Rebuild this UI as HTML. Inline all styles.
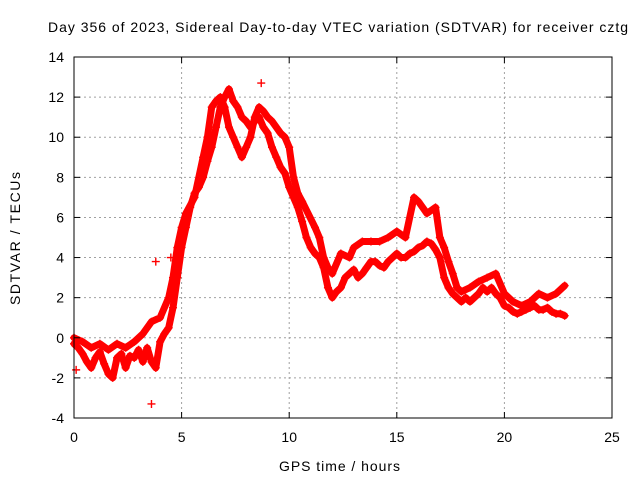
<!DOCTYPE html>
<html><head><meta charset="utf-8"><style>
body{margin:0;background:#fff}
svg{display:block;font-family:"Liberation Sans",sans-serif}
</style></head><body>
<svg id="chart" width="640" height="480" viewBox="0 0 640 480">
<text x="48" y="32" font-size="14" textLength="580" lengthAdjust="spacing" fill="#000">Day 356 of 2023, Sidereal Day-to-day VTEC variation (SDTVAR) for receiver cztg</text>
<g id="grid"></g><g id="series"></g><g id="axes"></g>
<text x="279" y="471" font-size="14" textLength="121" lengthAdjust="spacing">GPS time / hours</text>
<text x="0" y="0" font-size="14" textLength="133" lengthAdjust="spacing" transform="translate(20,305) rotate(-90)">SDTVAR / TECUs</text>
</svg>
<script>
const xTicks=[0,5,10,15,20,25];
const yTicks=[-4,-2,0,2,4,6,8,10,12,14];
const trackATimes=[0,0.2,0.4,0.6,0.8,1.0,1.2,1.4,1.6,1.8,2.0,2.2,2.4,2.6,2.8,3.0,3.2,3.4,3.6,3.8,4.0,4.2,4.4,4.6,4.8,5.0,5.2,5.4,5.6,5.8,6.0,6.2,6.4,6.6,6.8,7.0,7.2,7.4,7.6,7.8,8.0,8.2,8.4,8.6,8.8,9.0,9.2,9.4,9.6,9.8,10.0,10.2,10.4,10.6,10.8,11.0,11.2,11.4,11.6,11.8,12.0,12.2,12.4,12.6,12.8,13.0,13.2,13.4,13.6,13.8,14.0,14.2,14.4,14.6,14.8,15.0,15.2,15.4,15.6,15.8,16.0,16.2,16.4,16.6,16.8,17.0,17.2,17.4,17.6,17.8,18.0,18.2,18.4,18.6,18.8,19.0,19.2,19.4,19.6,19.8,20.0,20.2,20.4,20.6,20.8,21.0,21.2,21.4,21.6,21.8,22.0,22.2,22.4,22.6,22.8];
const trackAValues=[-0.3,-0.5,-0.8,-1.2,-1.5,-1.0,-0.7,-1.3,-1.8,-2.0,-1.0,-0.8,-1.5,-0.9,-1.0,-0.6,-1.2,-0.5,-1.2,-1.5,-0.2,0.2,0.5,1.5,3,4.5,5.5,6.5,7.2,7.5,8,8.8,9.5,10.5,11.5,12,12.4,11.8,11.5,11,10.8,10.5,10.8,11,10.5,10.2,9.5,9,8.5,8.2,7.5,7,6.5,5.8,5,4.5,4.2,4,3.5,2.5,2,2.3,2.5,3,3.2,3.4,3.0,3.2,3.5,3.8,3.8,3.6,3.5,3.8,4,4.2,4.0,4.0,4.2,4.3,4.5,4.6,4.8,4.7,4.4,4.0,3.0,2.5,2.2,2.0,1.8,2.0,1.8,2.0,2.2,2.5,2.3,2.5,2.2,2.0,1.6,1.5,1.3,1.2,1.3,1.4,1.5,1.6,1.4,1.4,1.5,1.3,1.2,1.2,1.1];
const trackBTimes=[0,0.4,0.8,1.2,1.6,2.0,2.4,2.8,3.2,3.6,4.0,4.4,4.6,4.8,5.0,5.2,5.6,6.0,6.2,6.4,6.6,6.8,7.0,7.2,7.4,7.6,7.8,8.0,8.2,8.4,8.6,8.8,9.0,9.2,9.6,9.8,10.0,10.2,10.4,10.6,11.2,11.4,11.6,11.8,12.0,12.4,12.8,13.0,13.4,13.8,14.2,14.6,15.0,15.4,15.8,16.0,16.4,16.8,17.0,17.2,17.4,17.6,17.8,18.0,18.4,18.8,19.2,19.6,20.0,20.4,20.8,21.2,21.6,22.0,22.4,22.8];
const trackBValues=[0,-0.2,-0.5,-0.3,-0.6,-0.3,-0.5,-0.2,0.2,0.8,1.0,2,3,4.5,5.5,6.2,7,9,10,11.5,11.8,12,11.5,10.5,10,9.5,9,9.5,10,11,11.5,11.3,11,10.8,10.2,10,9.5,8,7.2,6.8,5.5,5,4,3.5,3.2,4.2,4.0,4.5,4.8,4.8,4.8,5.0,5.3,5.0,7.0,6.8,6.2,6.5,5,4.5,3.8,3.2,2.5,2.3,2.5,2.8,3.0,3.2,2.2,1.8,1.6,1.8,2.2,2.0,2.2,2.6];
const outlierTimes=[3.6,8.7,0.1,3.8,4.5];
const outlierValues=[-3.3,12.7,-1.6,3.8,4.0];

const X0=74,X1=612,Y0=418,Y1=57;
const xs=v=>X0+(v-0)/(25-0)*(X1-X0);
const ys=v=>Y0-(v+4)/(14+4)*(Y0-Y1);
const NS="http://www.w3.org/2000/svg";
function mk(tag,attrs,parent){const e=document.createElementNS(NS,tag);for(const k in attrs)e.setAttribute(k,attrs[k]);parent.appendChild(e);return e;}
const grid=document.getElementById('grid'),axes=document.getElementById('axes'),series=document.getElementById('series');
xTicks.forEach(t=>{
  const x=xs(t);
  if(t>0&&t<25){const g=mk('line',{x1:x,x2:x,y1:Y1,y2:Y0,stroke:'#a0a0a0','stroke-dasharray':'2,3'},grid);
  
  }
  mk('line',{x1:x,x2:x,y1:Y0,y2:Y0-6,stroke:'#000'},axes);
  mk('line',{x1:x,x2:x,y1:Y1,y2:Y1+6,stroke:'#000'},axes);
  const l=mk('text',{x:x,y:Y0+24,'font-size':14,'text-anchor':'middle'},axes);l.textContent=t;
  
  
});
yTicks.forEach(t=>{
  const y=ys(t);
  if(t>-4&&t<14){const g=mk('line',{x1:X0,x2:X1,y1:y,y2:y,stroke:'#a0a0a0','stroke-dasharray':'2,3'},grid);
  
  }
  mk('line',{x1:X0,x2:X0+6,y1:y,y2:y,stroke:'#000'},axes);
  mk('line',{x1:X1,x2:X1-6,y1:y,y2:y,stroke:'#000'},axes);
  const l=mk('text',{x:X0-10,y:y+5,'font-size':14,'text-anchor':'end'},axes);l.textContent=t;
  
  
});
const fr=mk('rect',{x:X0,y:Y1,width:X1-X0,height:Y0-Y1,fill:'none',stroke:'#000'},axes);


function track(ts,vs,name){
  const pl=mk('polyline',{points:ts.map((t,i)=>xs(t)+','+ys(vs[i])).join(' '),fill:'none',stroke:'#f00','stroke-width':7,'stroke-linejoin':'round','stroke-linecap':'round'},series);
  
  
  markers(ts,vs,name);
}
function markers(ts,vs,name){
  ts.forEach((t,i)=>{
    const x=xs(t),y=ys(vs[i]);
    const p=mk('path',{d:`M${x-4},${y}H${x+4}M${x},${y-4}V${y+4}`,stroke:'#f00','stroke-width':1.4},series);
    
    
  });
}
track(trackATimes,trackAValues,'track-a');
track(trackBTimes,trackBValues,'track-b');
markers(outlierTimes,outlierValues,'outlier');
</script>
</body></html>
